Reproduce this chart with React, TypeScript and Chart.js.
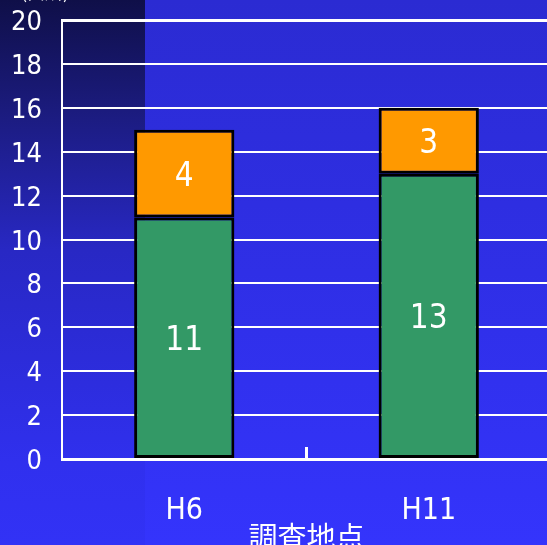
import React, { useEffect, useRef } from "react";
import { Chart, registerables } from "chart.js";

Chart.register(...registerables);

const categories = ["H6", "H11"];
const lowerValues = [11, 13];
const upperValues = [4, 3];
const yTicks = [0, 2, 4, 6, 8, 10, 12, 14, 16, 18, 20];
const xTitle = "調査地点";
const yTitle = "(箇所)";

const NUM_FONT = "'DejaVu Sans Condensed', 'Liberation Sans Narrow', 'Noto Sans CJK JP', sans-serif";
const JP_FONT = "'Noto Sans CJK JP', sans-serif";

const bgPlugin = {
  id: "bg",
  beforeDraw(chart: any) {
    const { ctx, width, height } = chart;
    ctx.save();
    const g = ctx.createLinearGradient(0, 0, 0, height);
    g.addColorStop(0, "#2b2bd2");
    g.addColorStop(0.5, "#2f2fe6");
    g.addColorStop(1, "#3434fc");
    ctx.fillStyle = g;
    ctx.fillRect(0, 0, width, height);
    const g2 = ctx.createLinearGradient(0, 0, 0, height);
    g2.addColorStop(0, "#0f0f48");
    g2.addColorStop(0.22, "#1c1c82");
    g2.addColorStop(0.46, "#2828c4");
    g2.addColorStop(0.85, "#3030ee");
    g2.addColorStop(1, "#3232f6");
    ctx.fillStyle = g2;
    ctx.fillRect(0, 0, 145, height);
    ctx.fillStyle = "#ffffff";
    ctx.font = "18px " + JP_FONT;
    ctx.textAlign = "center";
    ctx.textBaseline = "bottom";
    ctx.fillText(yTitle, 45, 1);
    ctx.restore();
  },
};

const overlayPlugin = {
  id: "overlay",
  afterDatasetsDraw(chart: any) {
    const { ctx, chartArea } = chart;
    ctx.save();
    const xs = chart.scales.x;
    const mid = (xs.getPixelForValue(0) + xs.getPixelForValue(1)) / 2;
    ctx.strokeStyle = "#ffffff";
    ctx.lineWidth = 3;
    ctx.beginPath();
    ctx.moveTo(mid, chartArea.bottom - 12);
    ctx.lineTo(mid, chartArea.bottom);
    ctx.stroke();
    ctx.fillStyle = "#ffffff";
    ctx.font = "33px " + NUM_FONT;
    ctx.textAlign = "center";
    ctx.textBaseline = "middle";
    chart.data.datasets.forEach((ds: any, i: number) => {
      const meta = chart.getDatasetMeta(i);
      meta.data.forEach((el: any, j: number) => {
        const cy = (el.y + el.base) / 2;
        ctx.fillText(String(ds.data[j]), el.x, cy + 4);
      });
    });
    ctx.restore();
  },
};

export default function App() {
  const ref = useRef<HTMLCanvasElement>(null);
  useEffect(() => {
    if (!ref.current) return;
    const chart = new Chart(ref.current, {
      type: "bar",
      data: {
        labels: categories,
        datasets: [
          {
            data: lowerValues,
            backgroundColor: "#339966",
            borderColor: "#000000",
            borderWidth: 3,
            borderSkipped: false,
            categoryPercentage: 0.41,
            barPercentage: 1,
          },
          {
            data: upperValues,
            backgroundColor: "#ff9900",
            borderColor: "#000000",
            borderWidth: 3,
            borderSkipped: false,
            categoryPercentage: 0.41,
            barPercentage: 1,
          },
        ],
      },
      options: {
        animation: false,
        responsive: true,
        maintainAspectRatio: false,
        layout: { padding: { top: 20, right: 0, left: 0, bottom: 0 } },
        plugins: { legend: { display: false }, tooltip: { enabled: false } },
        scales: {
          x: {
            stacked: true,
            grid: { display: false, drawTicks: false },
            border: { display: true, color: "#ffffff", width: 3 },
            ticks: {
              color: "#ffffff",
              font: { size: 30, family: NUM_FONT },
              padding: 34,
            },
            title: {
              display: true,
              text: xTitle,
              color: "#ffffff",
              font: { size: 29, family: JP_FONT },
              padding: { top: 0, bottom: -9 },
            },
            afterFit(scale: any) {
              scale.height = 86;
              scale.paddingLeft = 0;
              scale.paddingRight = 0;
            },
          } as any,
          y: {
            stacked: true,
            min: 0,
            max: 20,
            afterBuildTicks(scale: any) {
              scale.ticks = yTicks.map((v) => ({ value: v }));
            },
            grid: {
              color: "#ffffff",
              lineWidth: (c: any) => (c.tick && c.tick.value === 20 ? 3 : 2),
              drawTicks: false,
            },
            border: { display: true, color: "#ffffff", width: 2 },
            ticks: {
              color: "#ffffff",
              font: { size: 27, family: NUM_FONT },
              padding: 20,
              labelOffset: 3,
            },
            afterFit(scale: any) {
              scale.width = 62;
              scale.paddingTop = 0;
              scale.paddingBottom = 0;
            },
          } as any,
        },
      },
      plugins: [bgPlugin, overlayPlugin],
    });
    return () => chart.destroy();
  }, []);
  return (
    <div style={{ position: "absolute", left: 0, top: 0, width: 547, height: 545, overflow: "hidden" }}>
      <div style={{ position: "relative", width: 551, height: 545 }}>
        <canvas ref={ref} />
      </div>
    </div>
  );
}
